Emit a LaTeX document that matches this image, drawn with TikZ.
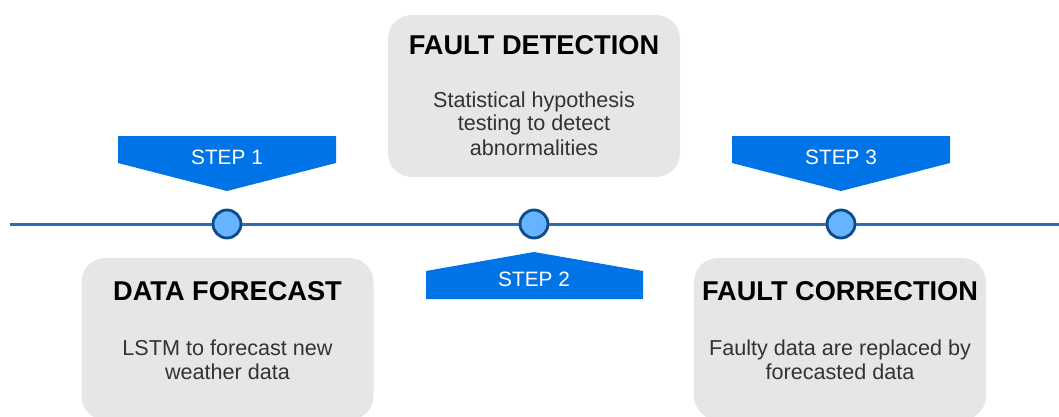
\documentclass[tikz,border=0pt]{standalone}
\usepackage{fontspec}
\setmainfont{Liberation Sans}
\definecolor{banner}{RGB}{0,115,230}
\definecolor{dotfill}{RGB}{102,179,255}
\definecolor{dotedge}{RGB}{12,74,138}
\definecolor{tline}{RGB}{46,108,180}
\definecolor{boxfill}{RGB}{230,230,230}
\definecolor{bodytext}{RGB}{51,51,51}
\tikzset{
  card/.style={draw=none, fill=boxfill, rounded corners=24pt, minimum width=292pt, minimum height=162pt, inner sep=0pt},
  cardtitle/.style={anchor=base, font=\fontsize{27.2}{30}\selectfont\bfseries, text=black, inner sep=0pt},
  cardbody/.style={anchor=base, font=\fontsize{21.6}{24}\selectfont, text=bodytext, inner sep=0pt},
  steptext/.style={anchor=base, font=\fontsize{20.8}{24}\selectfont, text=white, inner sep=0pt},
  bannershape/.style={fill=banner, draw=none},
  dot/.style={circle, fill=dotfill, draw=dotedge, line width=2.8pt, minimum size=28pt, inner sep=0pt},
  tl/.style={draw=tline, line width=3pt}
}
\begin{document}
\begin{tikzpicture}[x=1pt,y=-1pt]
\useasboundingbox (0,0) rectangle (1059,417);
\begin{scope}
\clip (0,0) rectangle (1059,417);
% cards
\node[card] (fd) at (534,96) {};
\node[card] (df) at (227.5,339) {};
\node[card] (fc) at (840,339) {};
\end{scope}
% card texts
\node[cardtitle] (fdt) at (534,55) {FAULT DETECTION};
\node[cardbody] (fdb1) at (534,107) {Statistical hypothesis};
\node[cardbody] (fdb2) at (534,131) {testing to detect};
\node[cardbody] (fdb3) at (534,155) {abnormalities};
\node[cardtitle] (dft) at (227.5,300) {DATA FORECAST};
\node[cardbody] (dfb1) at (227.5,355) {LSTM to forecast new};
\node[cardbody] (dfb2) at (227.5,379) {weather data};
\node[cardtitle] (fct) at (840,300) {FAULT CORRECTION};
\node[cardbody] (fcb1) at (840,355) {Faulty data are replaced by};
\node[cardbody] (fcb2) at (840,379) {forecasted data};
% banners
\fill[bannershape] (118,136) -- (336,136) -- (336,163) -- (227,191) -- (118,163) -- cycle;
\node[steptext] (s1) at (227,164) {STEP 1};
\fill[bannershape] (426,299) -- (643,299) -- (643,271) -- (534,252) -- (426,271) -- cycle;
\node[steptext] (s2) at (534,286) {STEP 2};
\fill[bannershape] (732,136) -- (950,136) -- (950,163) -- (841,191) -- (732,163) -- cycle;
\node[steptext] (s3) at (841,164) {STEP 3};
% timeline
\node[dot] (c1) at (227,224) {};
\node[dot] (c2) at (534,224) {};
\node[dot] (c3) at (841,224) {};
\coordinate (L) at (10,224);
\coordinate (R) at (1059,224);
\draw[tl] (L) -- (c1) -- (c2) -- (c3) -- (R);
\end{tikzpicture}
\end{document}
